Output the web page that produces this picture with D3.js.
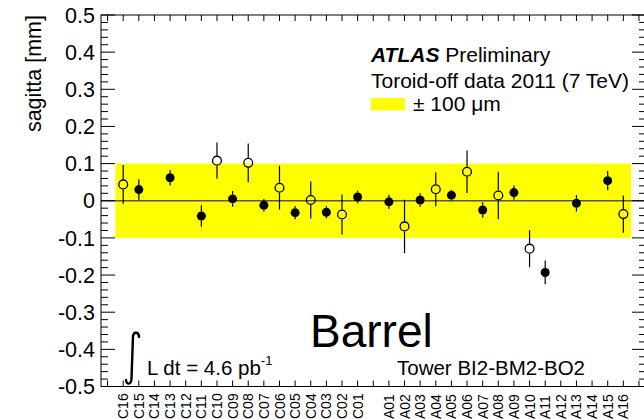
<!DOCTYPE html>
<html>
<head>
<meta charset="utf-8">
<script src="https://cdn.jsdelivr.net/npm/d3@7"></script>
<style>
    body { margin: 0; background: #fff; }
    text { font-family: "Liberation Sans", Arial, sans-serif; }
</style>
</head>
<body>
<div id="space"></div>
<script>

//Sector labels along the axis ("" is the gap between side C and side A)
var xLabels = ["C16", "C15", "C14", "C13", "C12", "C11", "C10", "C09", "C08", "C07", "C06", "C05", "C04", "C03", "C02", "C01",
               "",
               "A01", "A02", "A03", "A04", "A05", "A06", "A07", "A08", "A09", "A10", "A11", "A12", "A13", "A14", "A15", "A16"];

//Large sectors (open markers)
var openSectors = ["C16", "C10", "C08", "C06", "C04", "C02", "A02", "A04", "A06", "A08", "A10", "A16"];
var openValues = [0.044, 0.108, 0.102, 0.035, 0.002, -0.037, -0.069, 0.031, 0.078, 0.014, -0.129, -0.036];
var openErrors = [0.052, 0.049, 0.052, 0.059, 0.050, 0.054, 0.072, 0.046, 0.057, 0.064, 0.050, 0.050];

//Small sectors (filled markers)
var filledSectors = ["C15", "C13", "C11", "C09", "C07", "C05", "C03", "C01", "A01", "A03", "A05", "A07", "A09", "A11", "A13", "A15"];
var filledValues = [0.030, 0.062, -0.041, 0.005, -0.012, -0.032, -0.031, 0.010, -0.003, 0.002, 0.015, -0.025, 0.022, -0.193, -0.007, 0.054];
var filledErrors = [0.028, 0.021, 0.029, 0.021, 0.017, 0.018, 0.017, 0.017, 0.019, 0.018, 0.015, 0.021, 0.019, 0.032, 0.022, 0.026];

//Y axis
var yTicks = [0.5, 0.4, 0.3, 0.2, 0.1, 0, -0.1, -0.2, -0.3, -0.4, -0.5];
var yTickLabels = ["0.5", "0.4", "0.3", "0.2", "0.1", "0", "-0.1", "-0.2", "-0.3", "-0.4", "-0.5"];
var bandHalfWidth = 0.1;   // +- 100 um

var svg, x, y;
var W = 644, H = 419;
var frame = { left: 101, right: 646, top: 15, bottom: 386.5 };

init();

function init()
{
    svg = d3.select("#space").append("svg")
        .attr("xmlns", "http://www.w3.org/2000/svg")
        .attr("width", W)
        .attr("height", H);

    //Bin index -> pixel (bin 0 = C16 centre)
    x = d3.scaleLinear().domain([-1.42, 33.45]).range([frame.left, frame.right]);
    y = d3.scaleLinear().domain([-0.5, 0.5]).range([frame.bottom, frame.top]);

    drawBand();
    drawZeroLine();
    drawFrame();
    drawSeries(filledSectors, filledValues, filledErrors, false);
    drawSeries(openSectors, openValues, openErrors, true);
    drawTexts();
}

function drawBand() {
    svg.append("rect")
        .attr("x", x(-0.5))
        .attr("y", y(bandHalfWidth))
        .attr("width", x(xLabels.length - 0.5) - x(-0.5))
        .attr("height", y(-bandHalfWidth) - y(bandHalfWidth))
        .attr("fill", "#ffff00");
}

function drawZeroLine() {
    svg.append("line")
        .attr("x1", frame.left).attr("x2", frame.right)
        .attr("y1", y(0)).attr("y2", y(0))
        .attr("stroke", "#555")
        .attr("stroke-width", 1.5);
}

function drawFrame() {
    var g = svg.append("g").attr("stroke", "black").attr("stroke-width", 1);

    g.append("rect")
        .attr("x", frame.left).attr("y", frame.top)
        .attr("width", frame.right - frame.left)
        .attr("height", frame.bottom - frame.top)
        .attr("fill", "none");

    //Y ticks (major every 0.1, minor every 0.02), both sides
    var minor = d3.range(-50, 51).map(function (d) { return d / 100; }).filter(function (d, i) { return i % 2 == 0; });
    minor.forEach(function (v) {
        var major = Math.abs(Math.round(v * 100) % 10) == 0;
        var len = major ? 14 : 7;
        g.append("line")
            .attr("x1", frame.left).attr("x2", frame.left + len)
            .attr("y1", y(v)).attr("y2", y(v));
        g.append("line")
            .attr("x1", frame.right).attr("x2", frame.right - len)
            .attr("y1", y(v)).attr("y2", y(v));
    });

    //X ticks at every bin, bottom and top
    for (var i = -1; i <= xLabels.length + 1; i++) {
        if (x(i) <= frame.left || x(i) >= frame.right) continue;
        g.append("line")
            .attr("x1", x(i)).attr("x2", x(i))
            .attr("y1", frame.bottom).attr("y2", frame.bottom - 6);
        g.append("line")
            .attr("x1", x(i)).attr("x2", x(i))
            .attr("y1", frame.top).attr("y2", frame.top + 6);
    }

    //Y tick labels
    svg.append("g").selectAll("text")
        .data(yTicks)
        .enter().append("text")
        .attr("x", 95)
        .attr("y", function (d) { return y(d); })
        .attr("dy", "0.36em")
        .attr("text-anchor", "end")
        .attr("font-size", 21.5)
        .text(function (d, i) { return yTickLabels[i]; });

    //X labels, vertical
    svg.append("g").selectAll("text")
        .data(xLabels)
        .enter().append("text")
        .attr("transform", function (d, i) { return "translate(" + x(i) + ",419) rotate(-90)"; })
        .attr("dy", "0.36em")
        .attr("text-anchor", "start")
        .attr("font-size", 14)
        .text(function (d) { return d; });

    //Axis title
    svg.append("text")
        .attr("transform", "translate(41,15) rotate(-90)")
        .attr("text-anchor", "end")
        .attr("font-size", 21.5)
        .text("sagitta [mm]");
}

function drawSeries(sectors, values, errors, hollow) {
    var r = hollow ? 5 : 4.5;
    var g = svg.append("g");

    sectors.forEach(function (s, i) {
        var cx = x(xLabels.indexOf(s));
        var cy = y(values[i]);
        var top = y(values[i] + errors[i]);
        var bot = y(values[i] - errors[i]);

        //Error bar drawn outside the marker
        if (top < cy - r)
            g.append("line").attr("x1", cx).attr("x2", cx).attr("y1", top).attr("y2", cy - r)
                .attr("stroke", "black").attr("stroke-width", 1.2);
        if (bot > cy + r)
            g.append("line").attr("x1", cx).attr("x2", cx).attr("y1", cy + r).attr("y2", bot)
                .attr("stroke", "black").attr("stroke-width", 1.2);

        g.append("circle")
            .attr("cx", cx).attr("cy", cy)
            .attr("r", hollow ? r - 0.6 : r)
            .attr("fill", hollow ? "none" : "black")
            .attr("stroke", "black")
            .attr("stroke-width", hollow ? 1.3 : 0);
    });
}

function drawTexts() {
    var t = svg.append("g").attr("id", "text");

    var atlas = t.append("text").attr("x", 371).attr("y", 62).attr("font-size", 21);
    atlas.append("tspan").attr("font-weight", "bold").attr("font-style", "italic").text("ATLAS");
    atlas.append("tspan").text(" Preliminary");

    t.append("text").attr("x", 371).attr("y", 88).attr("font-size", 21)
        .text("Toroid-off data 2011 (7 TeV)");

    //Legend
    t.append("rect")
        .attr("x", 371).attr("y", 98)
        .attr("width", 34).attr("height", 12.5)
        .attr("fill", "#ffff00");
    t.append("text").attr("x", 413).attr("y", 110.5).attr("font-size", 21)
        .text("\u00b1 100 \u03bcm");

    t.append("text").attr("x", 310).attr("y", 346.5).attr("font-size", 46)
        .text("Barrel");

    //Integral sign
    t.append("path")
        .attr("d", "M139,337 C139,332 134,331 133,336 L131.5,379 C131,385 126.5,385 126,380")
        .attr("fill", "none")
        .attr("stroke", "black")
        .attr("stroke-width", 2.4)
        .attr("stroke-linecap", "round");

    var lumi = t.append("text").attr("x", 147).attr("y", 375).attr("font-size", 20.5);
    lumi.append("tspan").text("L dt = 4.6 pb");
    lumi.append("tspan").attr("dy", -10).attr("font-size", 13).text("-1");

    t.append("text").attr("x", 397).attr("y", 375).attr("font-size", 20.5)
        .text("Tower BI2-BM2-BO2");
}

</script>
</body>
</html>
